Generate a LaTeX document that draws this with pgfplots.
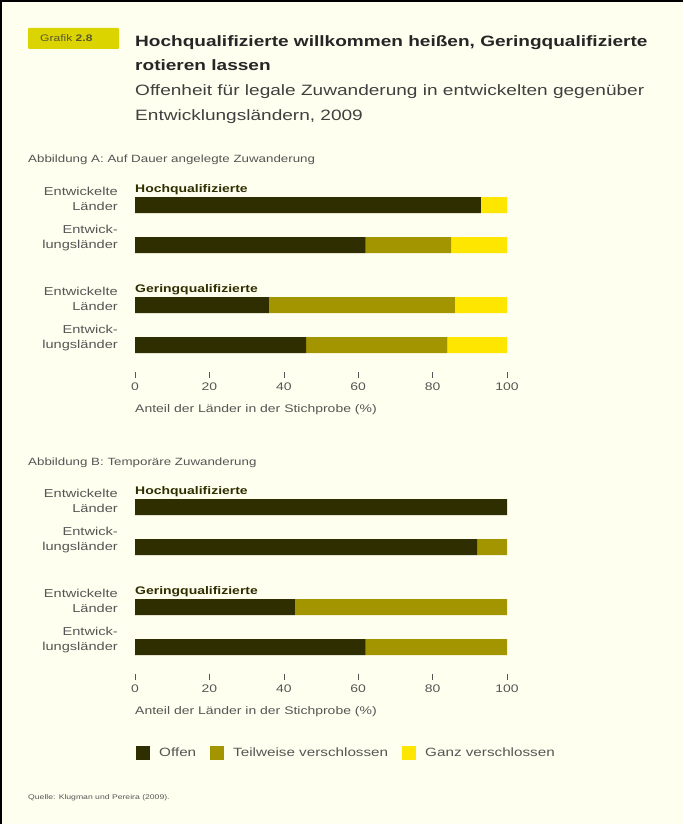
\documentclass[border=0pt]{standalone}
\usepackage{graphicx}
\usepackage{pgfplots}
\pgfplotsset{compat=1.18}
\usepackage{fontspec}
\setmainfont{Liberation Sans}
\newcommand\wide[1]{\scalebox{1.27}[1]{#1}}
\definecolor{bg}{HTML}{FFFFF0}
\definecolor{cdark}{HTML}{2F2E00}
\definecolor{colive}{HTML}{A39500}
\definecolor{cyellow}{HTML}{FFE600}
\definecolor{cbox}{HTML}{DCD400}
\definecolor{ctxt}{HTML}{555555}
\pgfplotsset{
  panel/.style={
    scale only axis, width=372pt, height=200pt,
    anchor=north west, clip=false,
    xbar stacked, bar width=16pt,
    xmin=0, xmax=100, ymin=-0.75, ymax=4.25, y dir=reverse,
    axis line style={draw=none},
    xtick={0,20,...,100},
    xticklabels={\wide{0},\wide{20},\wide{40},\wide{60},\wide{80},\wide{100}},
    xtick pos=bottom, tick align=center,
    major tick length=6pt, xtick style={ctxt, thin},
    ytick={0,1,2.5,3.5},
    yticklabels={{\wide{Entwickelte}\\\wide{Länder}},{\wide{Entwick-}\\\wide{lungsländer}},{\wide{Entwickelte}\\\wide{Länder}},{\wide{Entwick-}\\\wide{lungsländer}}},
    ytick style={draw=none},
    yticklabel style={align=right, font=\fontsize{11.5}{15}\selectfont, text=ctxt, inner sep=0pt, xshift=-14pt, yshift=6.5pt},
    xticklabel style={font=\fontsize{11}{12}\selectfont, text=ctxt, inner sep=0pt, yshift=-5pt},
    xlabel={\wide{Anteil der Länder in der Stichprobe (\%)}},
    xlabel style={at={(axis description cs:0,0)}, anchor=north west, inner sep=0pt, yshift=-29pt, font=\fontsize{11}{12}\selectfont, text=ctxt},
    legend image code/.code={\draw[#1, draw=none] (0pt,-7pt) rectangle (14pt,7pt);},
  }
}
\begin{document}
\begin{tikzpicture}[x=1pt,y=1pt]
\fill[bg] (0,0) rectangle (683,-824);
\fill[black] (0,0) rectangle (683,-2);
\fill[black] (0,0) rectangle (2,-824);
% header
\fill[cbox, rounded corners=1pt] (28,-28) rectangle (119,-49);
\node[anchor=west, inner sep=0pt, font=\fontsize{9.5}{10}\selectfont, text=cdark!80] at (40,-38.5) {\wide{Grafik \textbf{2.8}}};
\node[anchor=base west, inner sep=0pt, font=\bfseries\fontsize{15}{20}\selectfont, text=black!85] at (135,-47) {\wide{Hochqualifizierte willkommen heißen, Geringqualifizierte}};
\node[anchor=base west, inner sep=0pt, font=\bfseries\fontsize{15}{20}\selectfont, text=black!85] at (135,-71) {\wide{rotieren lassen}};
\node[anchor=base west, inner sep=0pt, font=\fontsize{15}{20}\selectfont, text=black!75] at (135,-96) {\wide{Offenheit für legale Zuwanderung in entwickelten gegenüber}};
\node[anchor=base west, inner sep=0pt, font=\fontsize{15}{20}\selectfont, text=black!75] at (135,-121) {\wide{Entwicklungsländern, 2009}};
\node[anchor=west, inner sep=0pt, font=\fontsize{10.5}{12}\selectfont, text=ctxt] at (28,-160) {\wide{Abbildung A: Auf Dauer angelegte Zuwanderung}};
\node[anchor=west, inner sep=0pt, font=\fontsize{10.5}{12}\selectfont, text=ctxt] at (28,-463) {\wide{Abbildung B: Temporäre Zuwanderung}};
\node[anchor=west, inner sep=0pt, font=\fontsize{6.8}{8}\selectfont, text=ctxt] at (28,-798) {\wide{Quelle: Klugman und Pereira (2009).}};

\begin{axis}[panel, at={(135pt,-175pt)}]
\addplot[fill=cdark, draw=none] coordinates {(93,0) (62,1) (36,2.5) (46,3.5)};
\addplot[fill=colive, draw=none] coordinates {(0,0) (23,1) (50,2.5) (38,3.5)};
\addplot[fill=cyellow, draw=none] coordinates {(7,0) (15,1) (14,2.5) (16,3.5)};
\node[anchor=west, inner sep=0pt, font=\bfseries\fontsize{11}{12}\selectfont, text=cdark] at (axis cs:0,-0.38) {\wide{Hochqualifizierte}};
\node[anchor=west, inner sep=0pt, font=\bfseries\fontsize{11}{12}\selectfont, text=cdark] at (axis cs:0,2.12) {\wide{Geringqualifizierte}};
\end{axis}

\begin{axis}[panel, at={(135pt,-477pt)},
  legend columns=3,
  legend style={at={(axis description cs:0,0)}, anchor=north west, xshift=1pt, yshift=-69pt, draw=none, fill=none,
    font=\fontsize{12}{13}\selectfont, text=ctxt, inner sep=0pt,
    /tikz/every odd column/.append style={column sep=7pt},
    /tikz/every even column/.append style={column sep=12pt}},
]
\addplot[fill=cdark, draw=none] coordinates {(100,0) (92,1) (43,2.5) (62,3.5)};
\addplot[fill=colive, draw=none] coordinates {(0,0) (8,1) (57,2.5) (38,3.5)};
\addplot[fill=cyellow, draw=none] coordinates {(0,0) (0,1) (0,2.5) (0,3.5)};
\legend{\wide{Offen}, \wide{Teilweise verschlossen}, \wide{Ganz verschlossen}}
\node[anchor=west, inner sep=0pt, font=\bfseries\fontsize{11}{12}\selectfont, text=cdark] at (axis cs:0,-0.38) {\wide{Hochqualifizierte}};
\node[anchor=west, inner sep=0pt, font=\bfseries\fontsize{11}{12}\selectfont, text=cdark] at (axis cs:0,2.12) {\wide{Geringqualifizierte}};
\end{axis}
\end{tikzpicture}
\end{document}
